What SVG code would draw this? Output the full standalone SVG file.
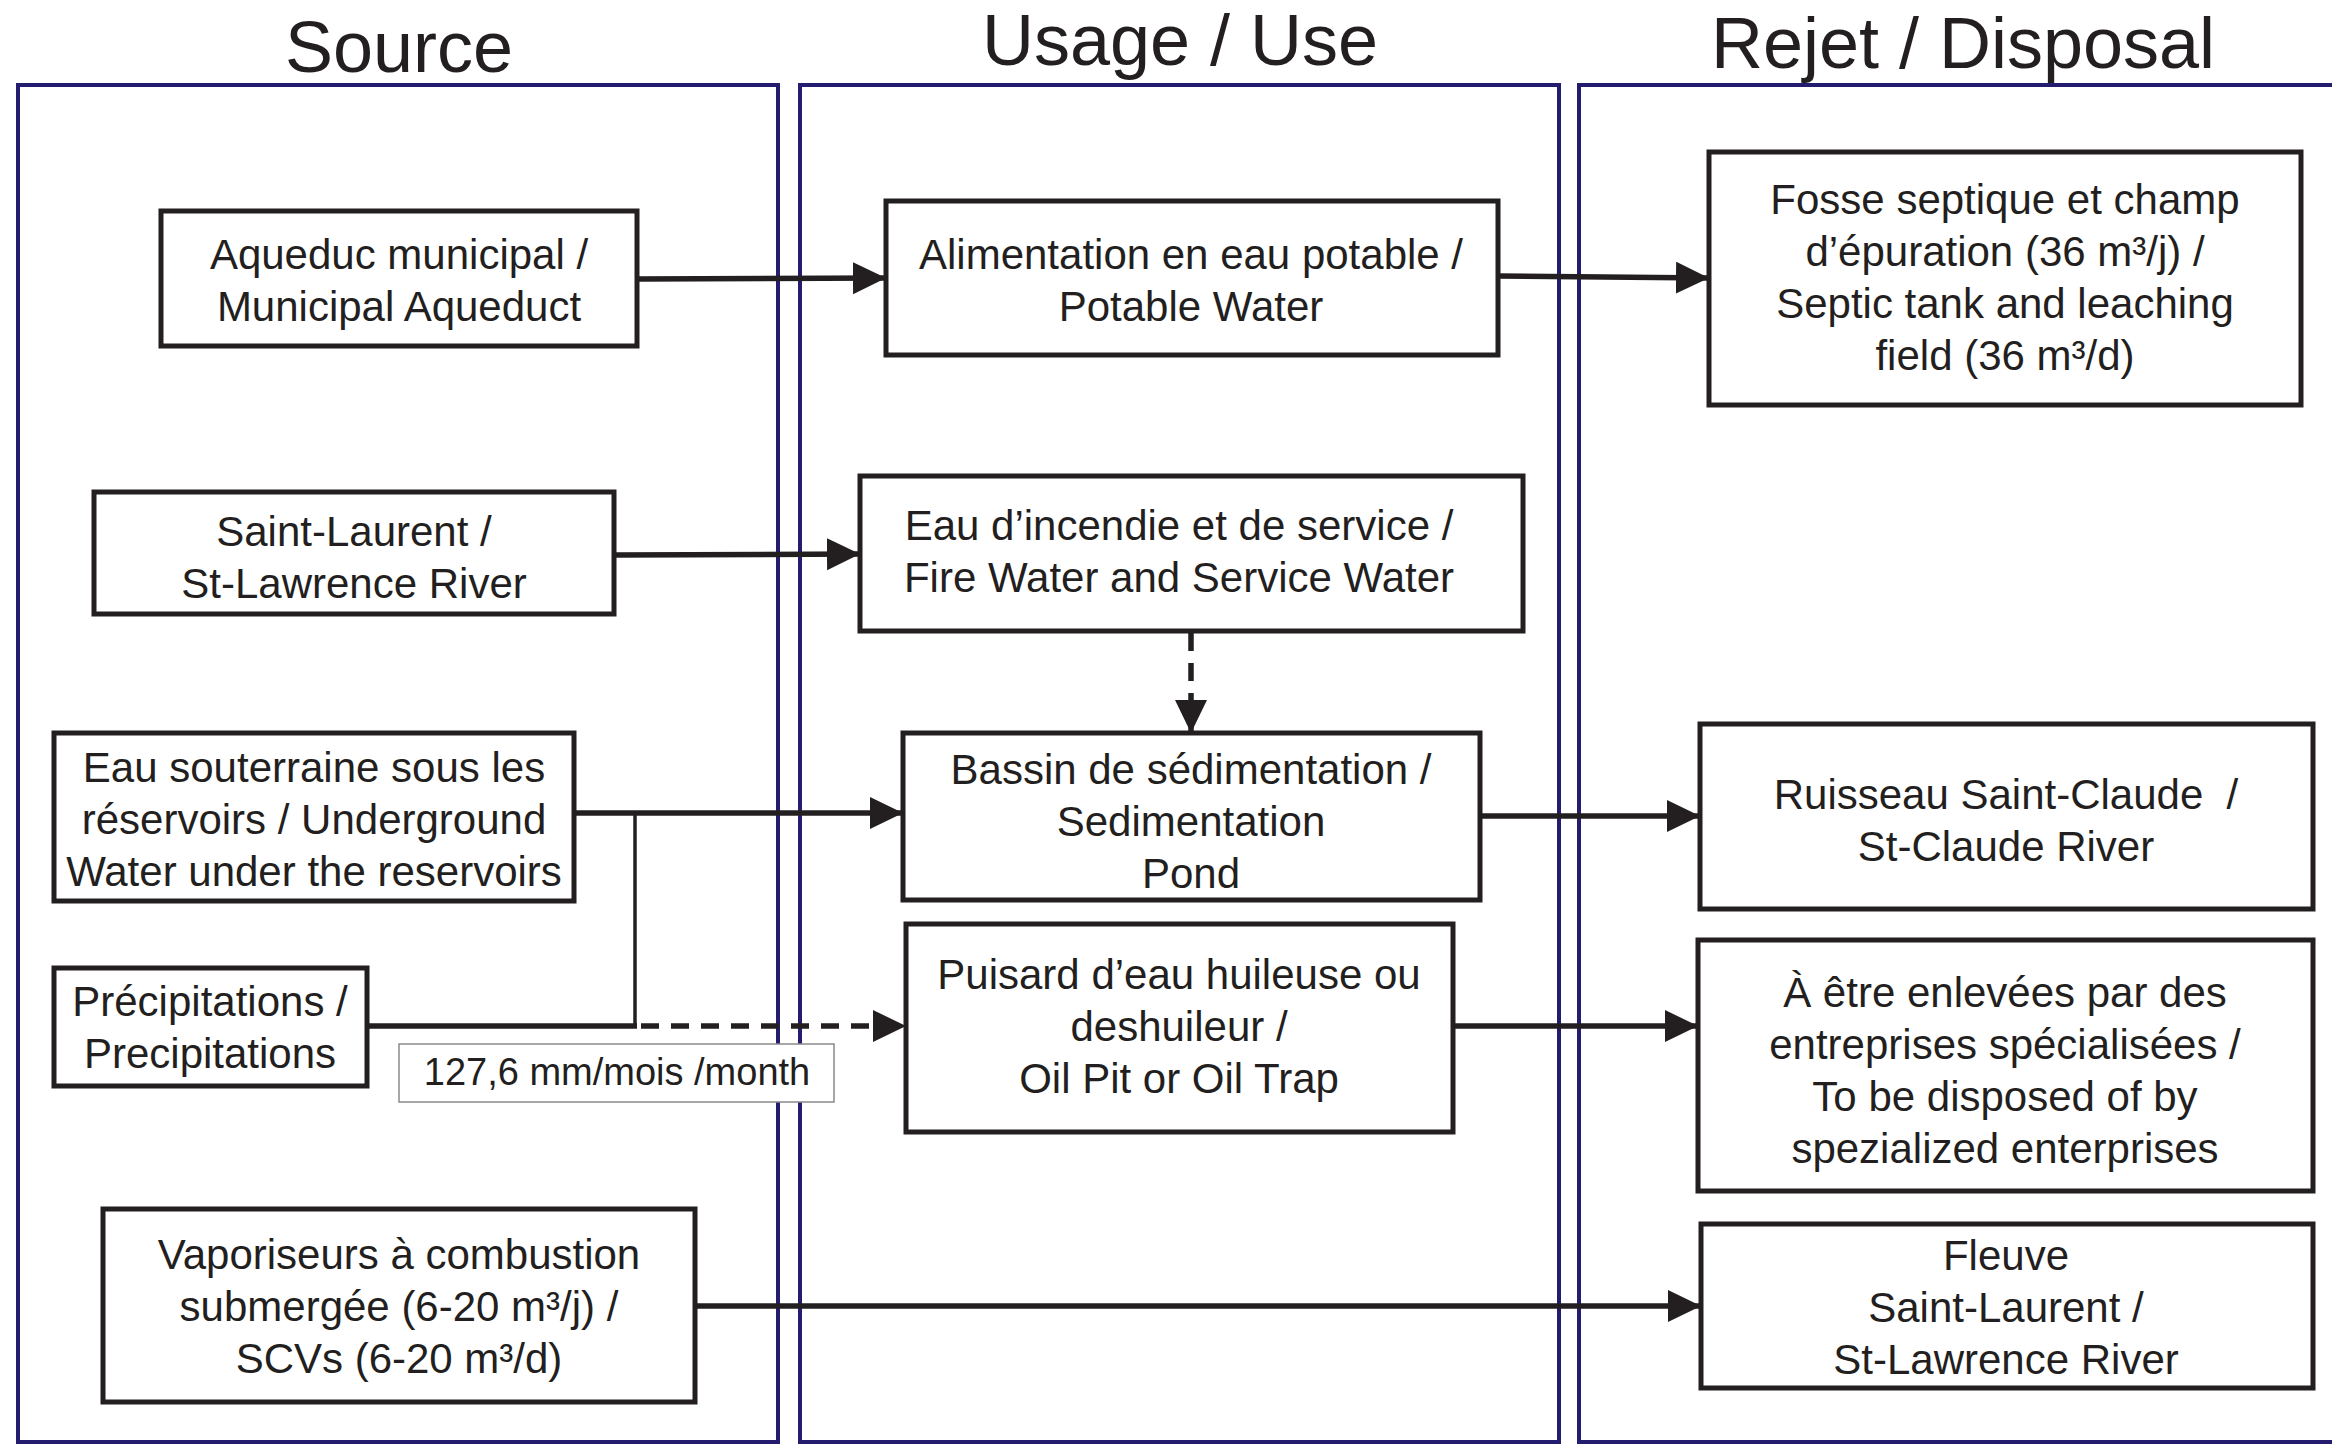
<svg xmlns="http://www.w3.org/2000/svg" width="2332" height="1445" viewBox="0 0 2332 1445">
<defs>
<style>
.panel{fill:none;stroke:#241c6e;stroke-width:4}
.box{fill:#fff;stroke:#231f20;stroke-width:5}
.lbl{fill:#fff;stroke:#8a8a8a;stroke-width:1.5}
.t{font-family:"Liberation Sans",Arial,sans-serif;font-size:42px;fill:#231f20;text-anchor:middle}
.s{font-size:38px}
.h{font-family:"Liberation Sans",Arial,sans-serif;font-size:72px;fill:#231f20;text-anchor:middle}
.c{fill:none;stroke:#231f20;stroke-width:5.5}
.d{stroke-dasharray:18 12}
.thin{stroke-width:3.5}
</style>
<marker id="ah" markerUnits="userSpaceOnUse" markerWidth="36" markerHeight="34" refX="33" refY="16" orient="auto">
<path d="M0,0 L33,16 L0,32 z" fill="#231f20"/>
</marker>
</defs>
<rect width="2332" height="1445" fill="#fff"/>
<g id="headers">
<text class="h" x="399" y="72">Source</text>
<text class="h" x="1180" y="65">Usage / Use</text>
<text class="h" x="1963" y="68">Rejet / Disposal</text>
</g>
<g id="panels">
<rect class="panel" x="18" y="85" width="760" height="1357"/>
<rect class="panel" x="800" y="85" width="759" height="1357"/>
<rect class="panel" x="1579" y="85" width="780" height="1357"/>
</g>
<g id="connectors">
<line class="c" x1="637" y1="279" x2="886" y2="278" marker-end="url(#ah)"/>
<line class="c" x1="1498" y1="276" x2="1709" y2="278" marker-end="url(#ah)"/>
<line class="c" x1="614" y1="555" x2="860" y2="554" marker-end="url(#ah)"/>
<line class="c d" x1="1191" y1="633" x2="1191" y2="733" marker-end="url(#ah)"/>
<line class="c" x1="574" y1="813" x2="903" y2="813" marker-end="url(#ah)"/>
<line class="c thin" x1="635" y1="813" x2="635" y2="1026"/>
<line class="c" x1="367" y1="1026" x2="637" y2="1026"/>
<line class="c d" x1="641" y1="1026" x2="906" y2="1026" marker-end="url(#ah)"/>
<line class="c" x1="1480" y1="816" x2="1700" y2="816" marker-end="url(#ah)"/>
<line class="c" x1="1453" y1="1026" x2="1698" y2="1026" marker-end="url(#ah)"/>
<line class="c" x1="695" y1="1306" x2="1701" y2="1306" marker-end="url(#ah)"/>
</g>
<g id="aqueduc">
<rect class="box" x="161" y="211" width="476" height="135"/>
<text class="t" x="399" y="269">Aqueduc municipal /</text>
<text class="t" x="399" y="321">Municipal Aqueduct</text>
</g>
<g id="alimentation">
<rect class="box" x="886" y="201" width="612" height="154"/>
<text class="t" x="1191" y="269">Alimentation en eau potable /</text>
<text class="t" x="1191" y="321">Potable Water</text>
</g>
<g id="fosse">
<rect class="box" x="1709" y="152" width="592" height="253"/>
<text class="t" x="2005" y="214">Fosse septique et champ</text>
<text class="t" x="2005" y="266">d’épuration (36 m³/j) /</text>
<text class="t" x="2005" y="318">Septic tank and leaching</text>
<text class="t" x="2005" y="370">field (36 m³/d)</text>
</g>
<g id="saint-laurent-source">
<rect class="box" x="94" y="492" width="520" height="122"/>
<text class="t" x="354" y="546">Saint-Laurent /</text>
<text class="t" x="354" y="598">St-Lawrence River</text>
</g>
<g id="incendie">
<rect class="box" x="860" y="476" width="663" height="155"/>
<text class="t" x="1179" y="540">Eau d’incendie et de service /</text>
<text class="t" x="1179" y="592">Fire Water and Service Water</text>
</g>
<g id="souterraine">
<rect class="box" x="54" y="733" width="520" height="168"/>
<text class="t" x="314" y="782">Eau souterraine sous les</text>
<text class="t" x="314" y="834">réservoirs / Underground</text>
<text class="t" x="314" y="886">Water under the reservoirs</text>
</g>
<g id="bassin">
<rect class="box" x="903" y="733" width="577" height="167"/>
<text class="t" x="1191" y="784">Bassin de sédimentation /</text>
<text class="t" x="1191" y="836">Sedimentation</text>
<text class="t" x="1191" y="888">Pond</text>
</g>
<g id="ruisseau">
<rect class="box" x="1700" y="724" width="613" height="185"/>
<text class="t" x="2006" y="809" xml:space="preserve">Ruisseau Saint-Claude  /</text>
<text class="t" x="2006" y="861">St-Claude River</text>
</g>
<g id="precipitations">
<rect class="box" x="54" y="968" width="313" height="118"/>
<text class="t" x="210" y="1016">Précipitations /</text>
<text class="t" x="210" y="1068">Precipitations</text>
</g>
<g id="label-precip">
<rect class="lbl" x="399" y="1044" width="435" height="58"/>
<text class="t s" x="617" y="1085">127,6 mm/mois /month</text>
</g>
<g id="puisard">
<rect class="box" x="906" y="924" width="547" height="208"/>
<text class="t" x="1179" y="989">Puisard d’eau huileuse ou</text>
<text class="t" x="1179" y="1041">deshuileur /</text>
<text class="t" x="1179" y="1093">Oil Pit or Oil Trap</text>
</g>
<g id="enlevees">
<rect class="box" x="1698" y="940" width="615" height="251"/>
<text class="t" x="2005" y="1007">À être enlevées par des</text>
<text class="t" x="2005" y="1059">entreprises spécialisées /</text>
<text class="t" x="2005" y="1111">To be disposed of by</text>
<text class="t" x="2005" y="1163">spezialized enterprises</text>
</g>
<g id="vaporiseurs">
<rect class="box" x="103" y="1209" width="592" height="193"/>
<text class="t" x="399" y="1269">Vaporiseurs à combustion</text>
<text class="t" x="399" y="1321">submergée (6-20 m³/j) /</text>
<text class="t" x="399" y="1373">SCVs (6-20 m³/d)</text>
</g>
<g id="fleuve">
<rect class="box" x="1701" y="1224" width="612" height="164"/>
<text class="t" x="2006" y="1270">Fleuve</text>
<text class="t" x="2006" y="1322">Saint-Laurent /</text>
<text class="t" x="2006" y="1374">St-Lawrence River</text>
</g>
</svg>
